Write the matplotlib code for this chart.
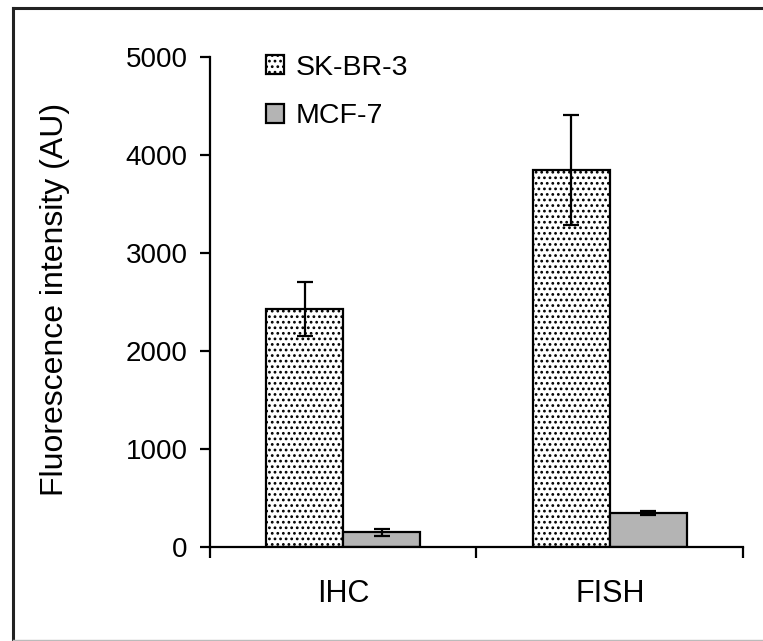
import matplotlib.pyplot as plt
import numpy as np
from matplotlib.lines import Line2D

plt.rcParams['font.family'] = ['Liberation Sans', 'DejaVu Sans']
plt.rcParams['hatch.linewidth'] = 1.2

methods = ["IHC", "FISH"]
skbr3_mean = [2430, 3850]
skbr3_err = [275, 560]
mcf7_mean = [150, 345]
mcf7_err = [35, 20]

fig = plt.figure(figsize=(7.63, 6.41), dpi=100)
ax = fig.add_axes([0.2752, 0.1466, 0.6986, 0.7644])

x = np.arange(len(methods)) + 0.5
w = 0.289
ax.bar(x - w / 2, skbr3_mean, w, color="white", edgecolor="black", hatch="...",
       linewidth=1.6, label="SK-BR-3", zorder=2)
ax.bar(x + w / 2, mcf7_mean, w, color="#b4b4b4", edgecolor="black",
       linewidth=1.6, label="MCF-7", zorder=2)
ax.errorbar(x - w / 2, skbr3_mean, yerr=skbr3_err, fmt="none", ecolor="black",
            elinewidth=1.6, capsize=6, capthick=1.6, zorder=3)
ax.errorbar(x + w / 2, mcf7_mean, yerr=mcf7_err, fmt="none", ecolor="black",
            elinewidth=1.6, capsize=6, capthick=1.6, zorder=3)

ax.set_xlim(0, 2)
ax.set_ylim(0, 5000)
ax.spines[["top", "right"]].set_visible(False)
ax.spines[["left", "bottom"]].set_linewidth(1.6)

# category boundaries get ticks, names sit on minor ticks in the middle
ax.set_xticks([0, 1, 2])
ax.set_xticklabels([])
ax.set_xticks(x, minor=True)
ax.set_xticklabels(methods, minor=True, fontsize=22)
ax.tick_params(axis="x", which="major", direction="out", length=8, width=1.6)
ax.tick_params(axis="x", which="minor", length=0, pad=23)

ax.set_yticks(np.arange(0, 5001, 1000))
ax.tick_params(axis="y", direction="out", length=7, width=1.6, pad=9, labelsize=20)

ax.set_ylabel("Fluorescence intensity (AU)", fontsize=23)
ax.yaxis.set_label_coords(-0.262, 0.506)

ax.legend(loc="upper left", bbox_to_anchor=(0.105, 1.005), frameon=False,
          fontsize=20.5, handlelength=0.65, handleheight=0.65, handletextpad=0.4,
          labelspacing=0.8, borderpad=0, borderaxespad=0)

# frame around the figure
fig.add_artist(Line2D([0.0164, 1.0], [0.988, 0.988], transform=fig.transFigure,
                      color="#222222", linewidth=2.2))
fig.add_artist(Line2D([0.0164, 0.0164], [0.0, 0.988], transform=fig.transFigure,
                      color="#222222", linewidth=2.2))
fig.add_artist(Line2D([0.0164, 1.0], [0.0023, 0.0023], transform=fig.transFigure,
                      color="#bbbbbb", linewidth=1))

fig.savefig("out.png", dpi=100)
